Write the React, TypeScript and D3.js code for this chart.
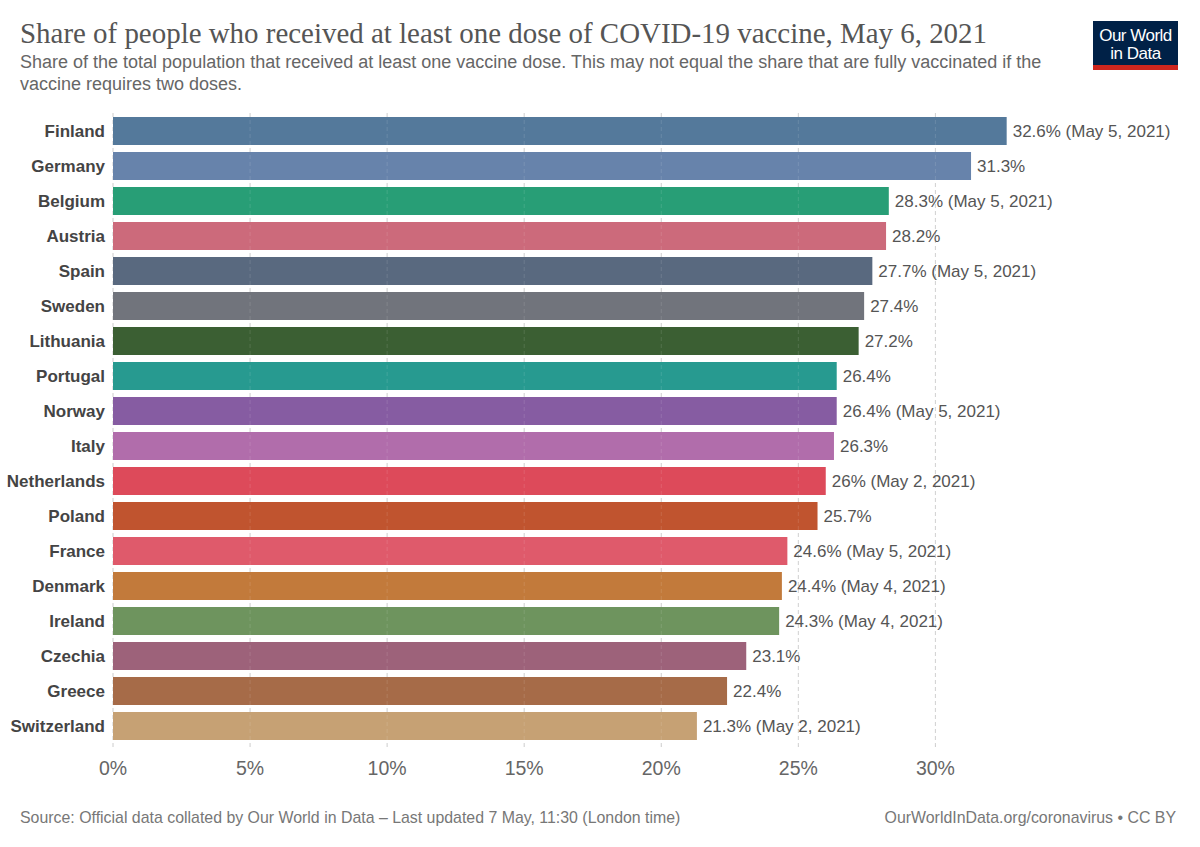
import { useEffect, useRef } from 'react';
import * as d3 from 'd3';

const countries = [
  'Finland', 'Germany', 'Belgium', 'Austria', 'Spain', 'Sweden', 'Lithuania', 'Portugal', 'Norway',
  'Italy', 'Netherlands', 'Poland', 'France', 'Denmark', 'Ireland', 'Czechia', 'Greece', 'Switzerland',
];
const shares = [32.6, 31.3, 28.3, 28.2, 27.7, 27.4, 27.2, 26.4, 26.4, 26.3, 26, 25.7, 24.6, 24.4, 24.3, 23.1, 22.4, 21.3];
const dateNotes = [
  'May 5, 2021', '', 'May 5, 2021', '', 'May 5, 2021', '', '', '', 'May 5, 2021',
  '', 'May 2, 2021', '', 'May 5, 2021', 'May 4, 2021', 'May 4, 2021', '', '', 'May 2, 2021',
];
const barColors = [
  '#54799b', '#6783ab', '#289e76', '#cc6a7b', '#59697f', '#71747c', '#3b5f33', '#279a90', '#865ca2',
  '#b16dab', '#dd4a5a', '#c0542f', '#df5a6b', '#c27a3b', '#6e945e', '#9d627a', '#a66b48', '#c6a174',
];
const xTicks = [0, 5, 10, 15, 20, 25, 30];

const title = 'Share of people who received at least one dose of COVID-19 vaccine, May 6, 2021';
const subtitle = [
  'Share of the total population that received at least one vaccine dose. This may not equal the share that are fully vaccinated if the',
  'vaccine requires two doses.',
];
const sourceNote = 'Source: Official data collated by Our World in Data – Last updated 7 May, 11:30 (London time)';
const licenseNote = 'OurWorldInData.org/coronavirus • CC BY';

const WIDTH = 1200;
const HEIGHT = 847;
const SANS = '"Liberation Sans", Arial, Helvetica, sans-serif';

const App = () => {
  const svgRef = useRef<SVGSVGElement>(null);

  useEffect(() => {
    if (!svgRef.current) return;
    const svg = d3.select(svgRef.current);
    svg.selectAll('*').remove();

    svg.append('rect').attr('width', WIDTH).attr('height', HEIGHT).attr('fill', '#fff');

    // Header
    svg.append('text')
      .attr('x', 20)
      .attr('y', 43)
      .attr('font-family', '"Liberation Serif", "DejaVu Serif", serif')
      .attr('font-size', 29)
      .attr('fill', '#555')
      .attr('textLength', 967)
      .attr('lengthAdjust', 'spacingAndGlyphs')
      .text(title);

    subtitle.forEach((line, i) => {
      svg.append('text')
        .attr('x', 20)
        .attr('y', 68 + i * 21.5)
        .attr('font-family', SANS)
        .attr('font-size', 18)
        .attr('fill', '#666')
        .text(line);
    });

    // Logo
    const logo = svg.append('g').attr('transform', 'translate(1093,21)');
    logo.append('rect').attr('width', 85).attr('height', 49).attr('fill', '#002147');
    logo.append('rect').attr('y', 44).attr('width', 85).attr('height', 5).attr('fill', '#ce261e');
    ['Our World', 'in Data'].forEach((t, i) => {
      logo.append('text')
        .attr('x', 42.5)
        .attr('y', 19.5 + i * 18)
        .attr('text-anchor', 'middle')
        .attr('font-family', SANS)
        .attr('font-size', 17)
        .attr('letter-spacing', -0.5)
        .attr('fill', '#fff')
        .text(t);
    });

    // Scales
    const x = d3.scaleLinear().domain([0, 30]).range([113, 935.4]);
    const y = d3.scaleBand<string>()
      .domain(countries)
      .range([113.5, 743.5])
      .paddingInner(0.2)
      .paddingOuter(0.1);

    // Grid lines (behind bars)
    svg.append('g')
      .selectAll('line')
      .data(xTicks)
      .join('line')
      .attr('x1', (d) => x(d))
      .attr('x2', (d) => x(d))
      .attr('y1', 113)
      .attr('y2', 748)
      .attr('stroke', '#ccc')
      .attr('stroke-width', 1)
      .attr('stroke-dasharray', '4,3');

    // Bars
    const rows = countries.map((c, i) => ({
      country: c,
      value: shares[i],
      note: dateNotes[i],
      color: barColors[i],
    }));

    svg.append('g')
      .selectAll('rect')
      .data(rows)
      .join('rect')
      .attr('x', x(0))
      .attr('y', (d) => y(d.country)!)
      .attr('width', (d) => x(d.value) - x(0))
      .attr('height', y.bandwidth())
      .attr('fill', (d) => d.color);

    // faint grid over bars
    svg.append('g')
      .selectAll('line')
      .data(xTicks.filter((t) => t > 0))
      .join('line')
      .attr('x1', (d) => x(d))
      .attr('x2', (d) => x(d))
      .attr('y1', 113)
      .attr('y2', 745)
      .attr('stroke', '#fff')
      .attr('stroke-opacity', 0.12)
      .attr('stroke-dasharray', '4,3');

    // Country labels
    svg.append('g')
      .selectAll('text')
      .data(rows)
      .join('text')
      .attr('x', 105)
      .attr('y', (d) => y(d.country)! + y.bandwidth() / 2)
      .attr('dy', '0.33em')
      .attr('text-anchor', 'end')
      .attr('font-family', SANS)
      .attr('font-weight', 'bold')
      .attr('font-size', 17)
      .attr('fill', '#444')
      .text((d) => d.country);

    // Value labels
    svg.append('g')
      .selectAll('text')
      .data(rows)
      .join('text')
      .attr('x', (d) => x(d.value) + 6)
      .attr('y', (d) => y(d.country)! + y.bandwidth() / 2)
      .attr('dy', '0.33em')
      .attr('font-family', SANS)
      .attr('font-size', 17)
      .attr('fill', '#555')
      .text((d) => `${d.value}%${d.note ? ` (${d.note})` : ''}`);

    // X axis tick labels
    svg.append('g')
      .selectAll('text')
      .data(xTicks)
      .join('text')
      .attr('x', (d) => x(d))
      .attr('y', 775)
      .attr('text-anchor', 'middle')
      .attr('font-family', SANS)
      .attr('font-size', 19.5)
      .attr('fill', '#666')
      .text((d) => `${d}%`);

    // Footer
    svg.append('text')
      .attr('x', 20)
      .attr('y', 823)
      .attr('font-family', SANS)
      .attr('font-size', 15.9)
      .attr('fill', '#777')
      .text(sourceNote);

    svg.append('text')
      .attr('x', 1176)
      .attr('y', 823)
      .attr('text-anchor', 'end')
      .attr('font-family', SANS)
      .attr('font-size', 15.9)
      .attr('fill', '#777')
      .text(licenseNote);
  }, []);

  return (
    <svg
      ref={svgRef}
      width={WIDTH}
      height={HEIGHT}
      style={{ position: 'absolute', left: 0, top: 0, display: 'block' }}
    />
  );
};

export default App;
